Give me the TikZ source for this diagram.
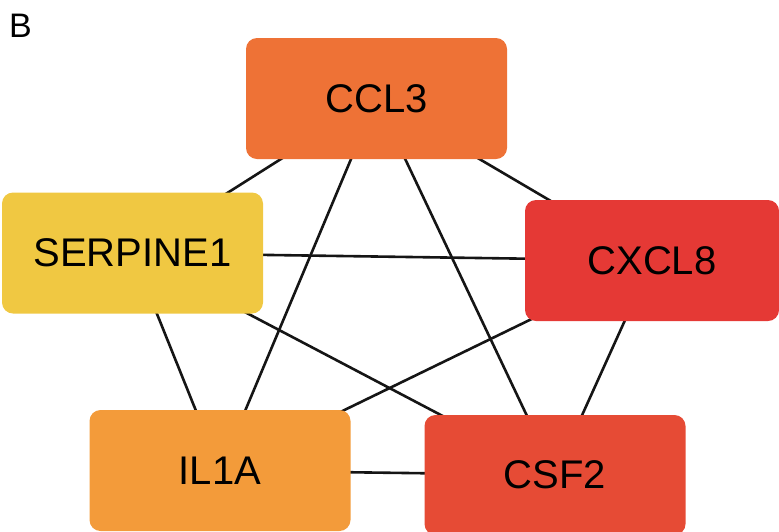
\documentclass[tikz,border=0pt]{standalone}
\usepackage{fontspec}
\setmainfont{Liberation Sans}
\usetikzlibrary{backgrounds}
\definecolor{cclc}{HTML}{EE7236}
\definecolor{serc}{HTML}{F0C842}
\definecolor{cxcc}{HTML}{E53935}
\definecolor{ilc}{HTML}{F39B3A}
\definecolor{csfc}{HTML}{E64B35}
\definecolor{edgec}{HTML}{151515}
\tikzset{
  gene/.style={rectangle, rounded corners=11pt, inner sep=0pt, draw=none,
    minimum width=261pt, minimum height=121pt,
    font=\fontsize{40}{48}\selectfont, text=black},
  link/.style={draw=edgec, line width=2.6pt}
}
\begin{document}
\begin{tikzpicture}[x=1pt,y=-1pt]
\useasboundingbox (0,0) rectangle (779,531);
\clip (0,0) rectangle (779,531);
\node[font=\fontsize{34}{40}\selectfont, inner sep=0pt] (lab) at (20.5,25.5) {B};
\node[gene, fill=cclc] (ccl3) at (376.5,98.5) {CCL3};
\node[gene, fill=serc] (serp) at (132.5,253) {SERPINE1};
\node[gene, fill=cxcc, minimum width=254pt] (cxcl8) at (652,260.5) {CXCL8};
\node[gene, fill=ilc] (il1a) at (220,470.5) {IL1A};
\node[gene, fill=csfc, minimum height=120pt] (csf2) at (555,475) {CSF2};
\begin{scope}[on background layer]
\draw[link] (ccl3.center) -- (serp.center);
\draw[link] (ccl3.center) -- (cxcl8.center);
\draw[link] (ccl3.center) -- (il1a.center);
\draw[link] (ccl3.center) -- (csf2.center);
\draw[link] (serp.center) -- (cxcl8.center);
\draw[link] (serp.center) -- (il1a.center);
\draw[link] (serp.center) -- (csf2.center);
\draw[link] (cxcl8.center) -- (il1a.center);
\draw[link] (cxcl8.center) -- (csf2.center);
\draw[link] (il1a.center) -- (csf2.center);
\end{scope}
\end{tikzpicture}
\end{document}
